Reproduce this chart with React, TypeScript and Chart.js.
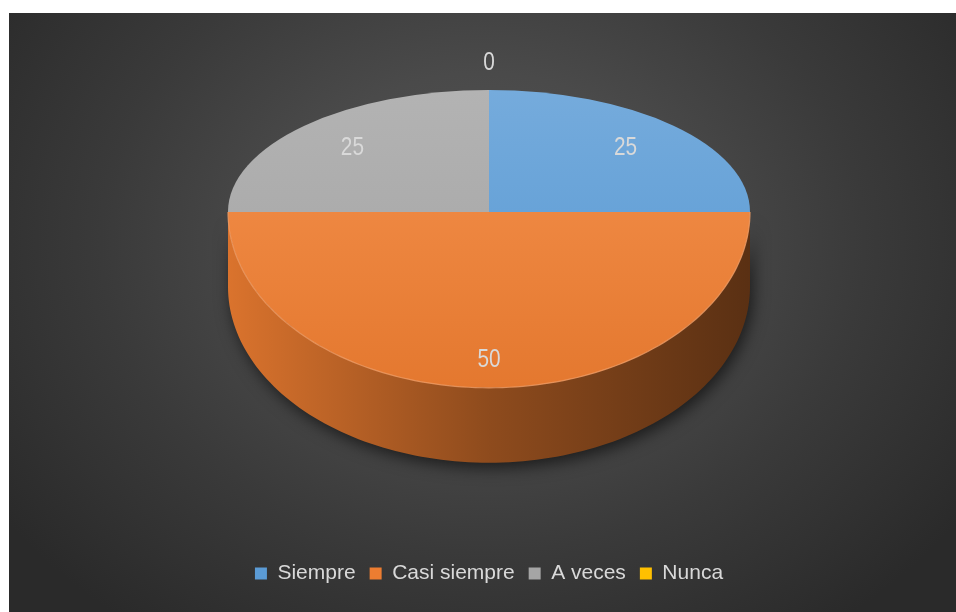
import { useEffect, useRef } from 'react';
import { Chart, registerables } from 'chart.js';

Chart.register(...registerables);

const categories = ['Siempre', 'Casi siempre', 'A veces', 'Nunca'];
const values = [25, 50, 25, 0];
const sliceColors = ['#5b9bd5', '#ed7d31', '#a5a5a5', '#ffc000'];

const FONT = "'Liberation Sans', Arial, sans-serif";
const TEXT_COLOR = '#d9d9d9';
const TILT_TOP = 0.467;
const TILT_BOTTOM = 0.674;
const DEPTH = 0.287;
const LABEL_FRACTION_BACK = 0.74;
const LABEL_FRACTION_FRONT = 0.84;
const ZERO_LABEL_OFFSET = 27;
const LABEL_CONDENSE = 0.8;

function toRgb(hex: string) {
  const n = parseInt(hex.slice(1), 16);
  return [(n >> 16) & 255, (n >> 8) & 255, n & 255];
}
function shade(hex: string, f: number) {
  const [r, g, b] = toRgb(hex);
  return `rgb(${Math.round(r * f)},${Math.round(g * f)},${Math.round(b * f)})`;
}
function tint(hex: string, w: number, a = 1) {
  const [r, g, b] = toRgb(hex);
  const m = (c: number) => Math.round(c + (255 - c) * w);
  return `rgba(${m(r)},${m(g)},${m(b)},${a})`;
}

function geom(chart: any) {
  const meta = chart.getDatasetMeta(0);
  const arc = meta.data[0];
  const p = arc.getProps(['x', 'y', 'outerRadius'], true);
  const area = chart.chartArea;
  const rx = area.width / 2;
  const ryTop = rx * TILT_TOP;
  const ryBot = rx * TILT_BOTTOM;
  return {
    x0: p.x,
    y0: p.y,
    R: p.outerRadius,
    cx: p.x,
    rx,
    ryTop,
    ryBot,
    split: area.top + ryTop,
    depth: rx * DEPTH,
  };
}

function project(g: any, u: number, v: number) {
  return { x: g.cx + g.rx * u, y: g.split + (v < 0 ? g.ryTop : g.ryBot) * v };
}

const pie3d = {
  id: 'pie3d',
  beforeDatasetsDraw(chart: any) {
    const meta = chart.getDatasetMeta(0);
    if (!meta.data.length) return;
    const g = geom(chart);
    const ctx = chart.ctx;

    // side walls (front half)
    meta.data.forEach((arc: any, i: number) => {
      const { startAngle, endAngle } = arc.getProps(['startAngle', 'endAngle'], true);
      const a0 = Math.max(startAngle, 0);
      const a1 = Math.min(endAngle, Math.PI);
      if (a1 <= a0) return;
      const base = sliceColors[i];
      const grad = ctx.createLinearGradient(g.cx - g.rx, 0, g.cx + g.rx, 0);
      grad.addColorStop(0, shade(base, 0.92));
      grad.addColorStop(0.5, shade(base, 0.6));
      grad.addColorStop(1, shade(base, 0.38));
      ctx.save();
      ctx.beginPath();
      const steps = 120;
      for (let s = 0; s <= steps; s++) {
        const t = a0 + ((a1 - a0) * s) / steps;
        const p = project(g, Math.cos(t), Math.sin(t));
        if (s === 0) ctx.moveTo(p.x, p.y);
        else ctx.lineTo(p.x, p.y);
      }
      for (let s = steps; s >= 0; s--) {
        const t = a0 + ((a1 - a0) * s) / steps;
        const p = project(g, Math.cos(t), Math.sin(t));
        ctx.lineTo(p.x, p.y + g.depth);
      }
      ctx.closePath();
      ctx.shadowColor = 'rgba(0,0,0,0.6)';
      ctx.shadowBlur = 16;
      ctx.shadowOffsetX = 3;
      ctx.shadowOffsetY = 5;
      ctx.fillStyle = grad;
      ctx.fill();
      ctx.restore();
    });

    // upper half of top surface, drawn by Chart.js under this transform
    ctx.save();
    ctx.beginPath();
    ctx.rect(0, 0, chart.width, g.split + 0.5);
    ctx.clip();
    ctx.translate(g.cx, g.split);
    ctx.scale(g.rx / g.R, g.ryTop / g.R);
    ctx.translate(-g.x0, -g.y0);
  },
  afterDatasetsDraw(chart: any) {
    const meta = chart.getDatasetMeta(0);
    if (!meta.data.length) return;
    const ctx = chart.ctx;
    ctx.restore();
    const g = geom(chart);

    // lower half of top surface
    ctx.save();
    ctx.beginPath();
    ctx.rect(0, g.split - 0.5, chart.width, chart.height);
    ctx.clip();
    ctx.translate(g.cx, g.split);
    ctx.scale(g.rx / g.R, g.ryBot / g.R);
    ctx.translate(-g.x0, -g.y0);
    meta.data.forEach((arc: any) => arc.draw(ctx, chart.chartArea));
    ctx.restore();

    // rim highlight on the front edge
    meta.data.forEach((arc: any, i: number) => {
      const { startAngle, endAngle } = arc.getProps(['startAngle', 'endAngle'], true);
      const a0 = Math.max(startAngle, 0);
      const a1 = Math.min(endAngle, Math.PI);
      if (a1 <= a0) return;
      ctx.save();
      ctx.beginPath();
      for (let s = 0; s <= 120; s++) {
        const t = a0 + ((a1 - a0) * s) / 120;
        const p = project(g, Math.cos(t), Math.sin(t));
        if (s === 0) ctx.moveTo(p.x, p.y);
        else ctx.lineTo(p.x, p.y);
      }
      ctx.strokeStyle = tint(sliceColors[i], 0.25, 0.8);
      ctx.lineWidth = 1.2;
      ctx.stroke();
      ctx.restore();
    });

    // data labels
    meta.data.forEach((arc: any, i: number) => {
      const { startAngle, endAngle } = arc.getProps(['startAngle', 'endAngle'], true);
      const mid = (startAngle + endAngle) / 2;
      const v = values[i];
      let p;
      if (v === 0) {
        const e = project(g, Math.cos(mid), Math.sin(mid));
        p = { x: e.x + Math.cos(mid) * ZERO_LABEL_OFFSET, y: e.y + Math.sin(mid) * ZERO_LABEL_OFFSET };
      } else {
        const f = Math.sin(mid) < 0 ? LABEL_FRACTION_BACK : LABEL_FRACTION_FRONT;
        p = project(g, Math.cos(mid) * f, Math.sin(mid) * f);
      }
      ctx.save();
      ctx.translate(p.x, p.y);
      ctx.scale(LABEL_CONDENSE, 1);
      ctx.font = `26px ${FONT}`;
      ctx.fillStyle = TEXT_COLOR;
      ctx.textAlign = 'center';
      ctx.textBaseline = 'middle';
      ctx.fillText(String(v), 0, 0);
      ctx.restore();
    });
  },
};

export default function App() {
  const ref = useRef<HTMLCanvasElement>(null);
  useEffect(() => {
    if (!ref.current) return;
    const chart = new Chart(ref.current, {
      type: 'pie',
      data: {
        labels: categories,
        datasets: [
          {
            data: values,
            backgroundColor: (c: any) => {
              const base = sliceColors[c.dataIndex] || '#888';
              const area = c.chart.chartArea;
              if (!area) return base;
              const cy = (area.top + area.bottom) / 2;
              const R = Math.min(area.width, area.height) / 2;
              const gr = c.chart.ctx.createLinearGradient(0, cy - R, 0, cy + R);
              gr.addColorStop(0, tint(base, 0.16));
              gr.addColorStop(0.5, tint(base, 0.08));
              gr.addColorStop(1, shade(base, 0.96));
              return gr;
            },
            borderWidth: 0,
            hoverOffset: 0,
            clip: false,
          } as any,
        ],
      },
      options: {
        animation: false,
        responsive: true,
        maintainAspectRatio: false,
        events: [],
        layout: { padding: { left: 219, right: 206, top: 77, bottom: 18 } },
        plugins: {
          tooltip: { enabled: false },
          legend: {
            position: 'bottom',
            labels: {
              boxWidth: 12,
              boxHeight: 12,
              padding: 14,
              color: TEXT_COLOR,
              font: { family: FONT, size: 21 },
              generateLabels: () =>
                categories.map((t, i) => ({
                  text: t,
                  fillStyle: sliceColors[i],
                  strokeStyle: sliceColors[i],
                  lineWidth: 0,
                  fontColor: TEXT_COLOR,
                  hidden: false,
                  index: i,
                })),
            },
          },
        },
      },
      plugins: [pie3d],
    });
    return () => chart.destroy();
  }, []);

  return (
    <div
      style={{
        position: 'absolute',
        left: 9,
        top: 13,
        width: 947,
        height: 599,
        background:
          'radial-gradient(ellipse 62% 80% at 50% 38%, #555555 0%, #4a4a4a 35%, #3a3a3a 65%, #2a2a2a 100%)',
      }}
    >
      <canvas ref={ref} />
    </div>
  );
}
